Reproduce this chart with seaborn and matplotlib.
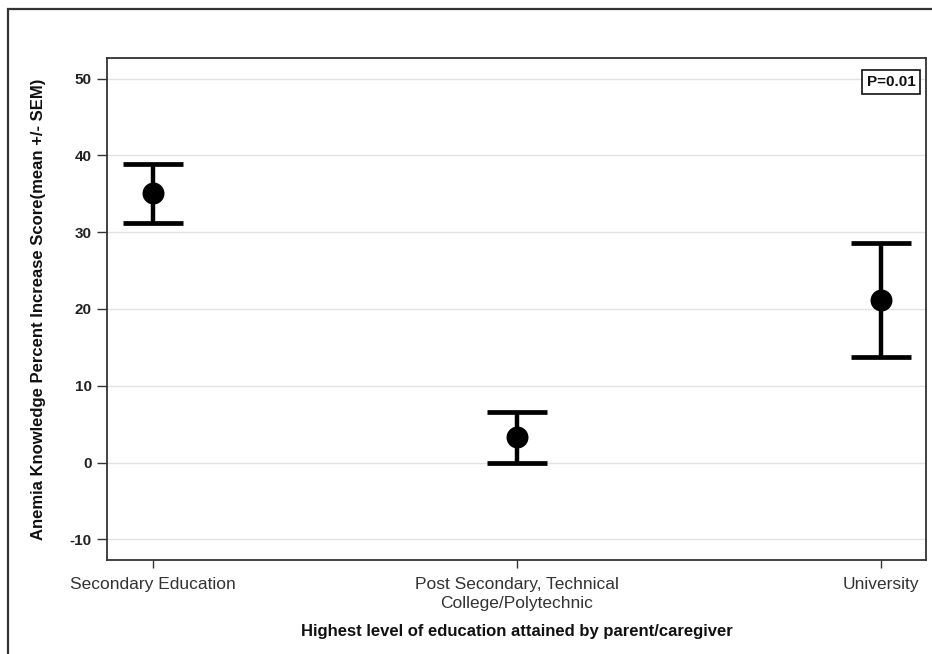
import matplotlib
matplotlib.use("Agg")
import matplotlib.pyplot as plt
import seaborn as sns
import pandas as pd
from matplotlib.patches import Rectangle

categories = ["Secondary Education", "Post Secondary, Technical\nCollege/Polytechnic", "University"]
means = [35.05, 3.3, 21.2]
sems = [3.85, 3.3, 7.4]
yticks = [-10, 0, 10, 20, 30, 40, 50]
p_text = "P=0.01"

sns.set_theme(style="white")
plt.rcParams['font.family'] = ['Liberation Sans', 'DejaVu Sans']

df = pd.DataFrame({"cat": categories, "mean": means, "sem": sems})

fig = plt.figure(figsize=(9.32, 6.54), dpi=100)
ax = fig.add_axes([107/932, 1-560/654, (926-107)/932, (560-58)/654])

for y in yticks:
    ax.axhline(y, color="#e2e2e2", lw=1.0, zorder=0)

sns.scatterplot(data=df, x="cat", y="mean", ax=ax, color="black", s=250,
                edgecolor="black", linewidth=0, zorder=4, legend=False)
ax.errorbar(x=list(range(len(categories))), y=df["mean"], yerr=df["sem"],
            fmt="none", ecolor="black", elinewidth=3.2, capsize=21.6, capthick=3.4, zorder=3)

ax.set_xlim(-0.125, 2.125)
ax.set_ylim(-12.7, 52.7)
ax.set_yticks(yticks)
ax.set_yticklabels([str(v) for v in yticks], fontsize=11, fontweight="bold", color="#222")
ax.set_xticks(range(len(categories)))
ax.set_xticklabels(categories, fontsize=12.5, color="#333", linespacing=1.4)
ax.tick_params(axis="y", direction="out", length=7, width=1.0, color="#333", left=True, pad=4)
ax.tick_params(axis="x", direction="out", length=6, width=1.0, color="#333", bottom=True, pad=6)

for s in ax.spines.values():
    s.set_color("#333")
    s.set_linewidth(1.3)

ax.set_xlabel("Highest level of education attained by parent/caregiver", fontsize=12,
              fontweight="bold", color="#111", labelpad=9)
ax.set_ylabel("Anemia Knowledge Percent Increase Score(mean +/- SEM)", fontsize=12,
              fontweight="bold", color="#111", labelpad=17)

ax.text(0.987, 0.966, p_text, transform=ax.transAxes, ha="right", va="top",
        fontsize=11, fontweight="bold", color="#111",
        bbox=dict(boxstyle="square,pad=0.3", facecolor="white", edgecolor="#111", linewidth=1.2))

fig.patches.append(Rectangle((8/932, -0.1), 1.2, 1-9/654+0.1, transform=fig.transFigure,
                             fill=False, edgecolor="#333", linewidth=1.6, zorder=10))

fig.savefig("out.png", dpi=100, facecolor="white")
